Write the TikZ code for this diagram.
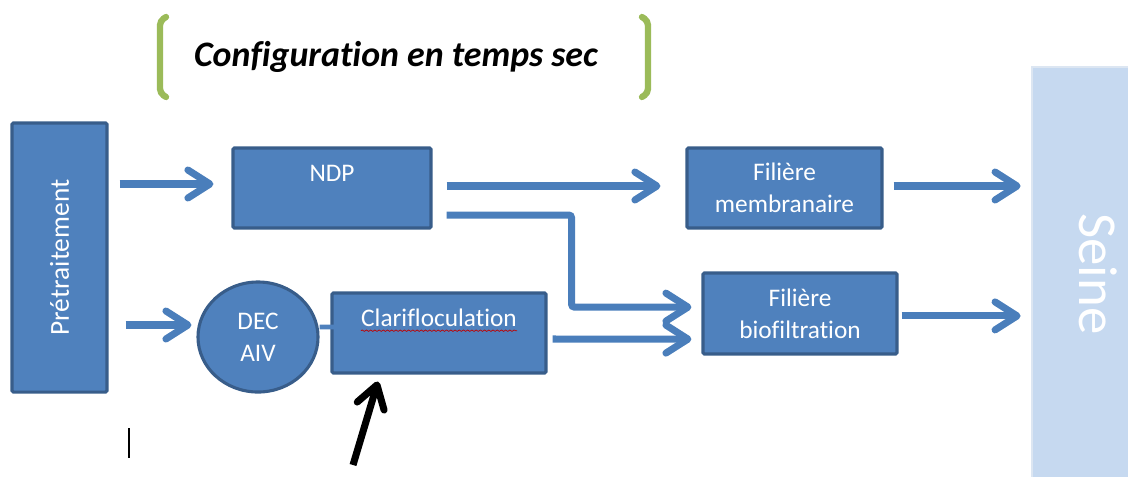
\documentclass[tikz,border=0pt]{standalone}
\usepackage{fontspec}
\setmainfont[Ligatures=NoCommon]{Carlito}
\usetikzlibrary{arrows.meta,shapes.geometric,positioning,decorations.pathmorphing}
\definecolor{boxfill}{HTML}{4F81BD}
\definecolor{boxline}{HTML}{385D8A}
\definecolor{flowblue}{HTML}{4A7EBB}
\definecolor{seinefill}{HTML}{C6D9F0}
\definecolor{seineline}{HTML}{DCE6F2}
\definecolor{bracketgreen}{HTML}{9BBB59}
\tikzset{>={Straight Barb[length=0.55cm,width=0.7cm,round]}}
\tikzstyle{box}      = [draw=boxline,
                        fill=boxfill,
                        line width=2.2pt,
                        rounded corners=1pt,
                        text=white,
                        align=center,
                        inner sep=0pt,
                        font=\fontsize{18}{23}\selectfont]
\tikzstyle{boxtext}  = [text=white,
                        inner sep=0pt,
                        font=\fontsize{18}{23}\selectfont]
\tikzstyle{seinebox} = [draw=seineline,
                        fill=seinefill,
                        line width=2pt,
                        text=white,
                        inner sep=0pt,
                        font=\fontsize{39}{44}\selectfont]
\tikzstyle{flow}     = [->,
                        draw=flowblue,
                        line width=5pt]
\tikzstyle{pointer}  = [->,
                        line width=5pt]
\tikzstyle{bracket}  = [draw=bracketgreen,
                        line width=4.5pt,
                        line cap=round,
                        rounded corners=3pt]

\begin{document}
\begin{tikzpicture}[x=0.025cm, y=-0.025cm]
  \useasboundingbox (0,0) rectangle (1128,476);

  % Title
  \node[font=\fontsize{25.5}{30}\selectfont\bfseries\itshape] (title) at (396,57) {Configuration en temps sec};
  \draw[bracket] (166,17) -- (160,21) -- (160,93) -- (166,97);
  \draw[bracket] (642,17) -- (648,21) -- (648,93) -- (642,97);

  % Nodes
  \node[seinebox, minimum width=3.3cm, minimum height=10.35cm] (seine) at (1098,274) {\rotatebox{-90}{Seine}};
  \node[box, minimum width=2.375cm, minimum height=6.725cm,
    font=\fontsize{19.5}{23}\selectfont] (pre) at (59.5,257.5) {\rotatebox{90}{Prétraitement}};
  \node[box, minimum width=4.95cm, minimum height=2cm,
    label={[boxtext, anchor=base, yshift=-0.875cm]north:NDP}] (ndp) at (332,188) {};
  \node[box, minimum width=4.875cm, minimum height=2cm] (memb) at (784.5,188) {Filière\\membranaire};
  \node[box, ellipse, minimum width=3cm, minimum height=2.75cm] (dec) at (258,337) {DEC\\AIV};
  \node[box, minimum width=5.35cm, minimum height=2cm,
    label={[boxtext, name=clartext, anchor=base, yshift=-0.875cm]north:Clarifloculation}] (clar) at (439,333) {};
  \node[box, minimum width=4.85cm, minimum height=2.025cm] (bio) at (800,313.5) {Filière\\biofiltration};
  \coordinate (hint) at (353,465);
  \coordinate (caret) at (129,428);

  % Edges
  \draw[flow] ([xshift=0.275cm, yshift=0.1cm]pre.east |- ndp.west) -- ([xshift=-0.45cm, yshift=0.1cm]ndp.west);
  \draw[flow] ([xshift=0.425cm, yshift=0.3cm]pre.east |- dec.west) -- ([xshift=-0.125cm, yshift=0.3cm]dec.west);
  \draw[flow] ([xshift=0.35cm, yshift=0.05cm]ndp.east) -- ([xshift=-0.625cm, yshift=0.05cm]memb.west);
  \draw[flow, rounded corners=2pt] ([xshift=0.35cm, yshift=-0.675cm]ndp.east) -- ++(125,0)
    |- ([xshift=-0.25cm, yshift=0.16cm]bio.west);
  \draw[flow] ([xshift=0.125cm, yshift=-0.15cm]clar.east) -- ([xshift=-0.25cm, yshift=-0.64cm]bio.west);
  \draw[flow] ([xshift=0.25cm, yshift=0.05cm]memb.east) -- ([xshift=-0.25cm, yshift=0.05cm]seine.west |- memb.east);
  \draw[flow] ([xshift=0.075cm, yshift=-0.06cm]bio.east) -- ([xshift=-0.25cm, yshift=-0.06cm]seine.west |- bio.east);
  \draw[boxfill, line width=3.5pt] ([yshift=0.25cm]dec.east) -- ([xshift=0.45cm, yshift=0.15cm]clar.west);
  \draw[pointer] (hint) -- ([xshift=-1.525cm, yshift=-0.175cm]clar.south);
  \draw[line width=1.2pt] (caret) -- ++(0,30);

  % Spelling mark
  \draw[red!75!black, line width=0.5pt, decorate,
    decoration={snake, amplitude=0.5pt, segment length=3pt}]
    ([yshift=-3pt]clartext.base west) -- ([yshift=-3pt]clartext.base east);

\end{tikzpicture}
\end{document}
